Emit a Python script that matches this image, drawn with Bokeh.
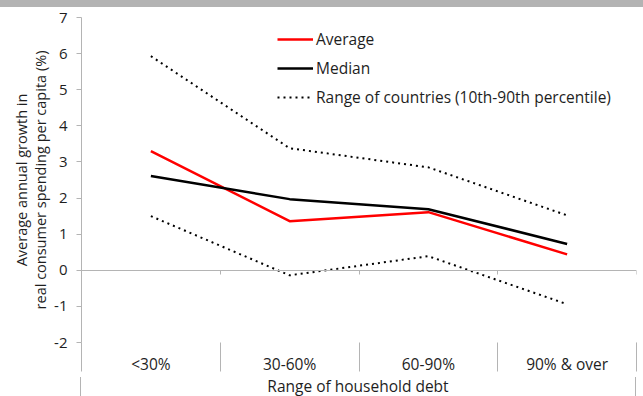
from bokeh.plotting import figure
from bokeh.models import (Range1d, FixedTicker, LinearAxis, Legend, LegendItem,
                          ColumnDataSource, Div)
from bokeh.layouts import column
from bokeh.embed import file_html
from bokeh.resources import INLINE

# Household debt bands and growth in real consumer spending per capita (%)
categories = ["<30%", "30-60%", "60-90%", "90% & over"]
average = [3.30, 1.36, 1.61, 0.44]
median = [2.61, 1.97, 1.69, 0.73]
pct90 = [5.93, 3.38, 2.85, 1.52]
pct10 = [1.50, -0.14, 0.39, -0.94]
y_ticks = [-2, -1, 0, 1, 2, 3, 4, 5, 6, 7]
x_title = "Range of household debt"
y_title = "Average annual growth in\nreal consumer spending per capita (%)"

FONT = "Open Sans"
TEXT = "#1e1e1e"
GRAY = "#b4b4b4"
LEFT = 81
RIGHT = 7
TOP = 10
FRAME_H = 325
SEP_H = 29       # length of the separators between category labels
CAT_PANEL = 35   # room below the frame for the category labels
BOX_H = 19

xpos = [i + 0.5 for i in range(len(categories))]
bounds = list(range(len(categories) + 1))
src = ColumnDataSource(dict(x=xpos, avg=average, med=median, hi=pct90, lo=pct10))

p = figure(width=643, height=TOP + FRAME_H + CAT_PANEL, output_backend="svg",
           toolbar_location=None,
           x_range=Range1d(0, len(categories)), y_range=Range1d(y_ticks[0], y_ticks[-1]),
           x_axis_type=None, y_axis_type=None,
           min_border_left=LEFT, min_border_right=RIGHT, min_border_top=TOP,
           min_border_bottom=CAT_PANEL)
p.outline_line_color = None
p.background_fill_color = "white"
p.border_fill_color = "white"

# vertical value axis
yax = LinearAxis(ticker=FixedTicker(ticks=y_ticks),
                 major_label_overrides={t: str(t) for t in y_ticks},
                 axis_line_color=GRAY, major_tick_line_color=GRAY,
                 major_tick_out=5, major_tick_in=0, minor_tick_line_color=None,
                 major_label_standoff=9,
                 major_label_text_font=FONT, major_label_text_font_size="15px",
                 major_label_text_color=TEXT,
                 axis_label=y_title,
                 axis_label_text_font=FONT, axis_label_text_font_size="14.5px",
                 axis_label_text_font_style="normal", axis_label_text_color=TEXT,
                 axis_label_text_line_height=1.0, axis_label_standoff=1)
p.add_layout(yax, "left")

# horizontal line at zero with tick marks at the band boundaries
zero_ax = LinearAxis(fixed_location=0, ticker=FixedTicker(ticks=bounds),
                     axis_line_color=GRAY, major_tick_line_color=GRAY,
                     major_tick_in=4, major_tick_out=0, minor_tick_line_color=None,
                     major_label_text_font_size="0px", major_label_standoff=0,
                     major_label_overrides={b: "" for b in bounds})
p.add_layout(zero_ax, "above")

# outer edges of the category area, running down to the bottom of the canvas
edge_ax = LinearAxis(fixed_location=y_ticks[0],
                     ticker=FixedTicker(ticks=[bounds[0], bounds[-1]]),
                     axis_line_color=None, major_tick_line_color=GRAY,
                     major_tick_in=60, major_tick_out=0, minor_tick_line_color=None,
                     major_label_text_font_size="0px", major_label_standoff=0,
                     major_label_overrides={bounds[0]: "", bounds[-1]: ""})
p.add_layout(edge_ax, "above")

# category labels with separators between the bands
cat_ax = LinearAxis(ticker=FixedTicker(ticks=xpos, minor_ticks=bounds),
                    major_label_overrides={x: c for x, c in zip(xpos, categories)},
                    axis_line_color=None, major_tick_line_color=None,
                    major_tick_out=0, major_tick_in=0,
                    minor_tick_out=SEP_H, minor_tick_in=0, minor_tick_line_color=GRAY,
                    major_label_standoff=-19,
                    major_label_text_font=FONT, major_label_text_font_size="15.5px",
                    major_label_text_color=TEXT)
p.add_layout(cat_ax, "below")

r_avg = p.line("x", "avg", source=src, line_color="#ff0000", line_width=2.5)
r_med = p.line("x", "med", source=src, line_color="black", line_width=2.5)
r_hi = p.line("x", "hi", source=src, line_color="black", line_width=2, line_dash="2 4")
r_lo = p.line("x", "lo", source=src, line_color="black", line_width=2, line_dash="2 4")

legend = Legend(items=[LegendItem(label="Average", renderers=[r_avg]),
                       LegendItem(label="Median", renderers=[r_med]),
                       LegendItem(label="Range of countries (10th-90th percentile)",
                                  renderers=[r_hi])],
                location=(196, 234), orientation="vertical",
                background_fill_alpha=0, border_line_color=None,
                padding=0, margin=0, spacing=7,
                glyph_width=36, glyph_height=20, label_height=20, label_standoff=3,
                label_text_font=FONT, label_text_font_size="15.5px",
                label_text_color=TEXT)
p.add_layout(legend)

band = Div(width=643, height=7, margin=0,
           styles={"background-color": "#b3b3b3"})

# outer category box holding the horizontal axis title
box_w = 643 - LEFT - RIGHT + 1
title_box = Div(
    text=(f'<div style="display:block;width:{box_w - 2}px;'
          f'font-family:\'{FONT}\';font-size:15.5px;color:{TEXT};'
          f'text-align:center;padding-top:0px;line-height:18px;'
          f'white-space:nowrap;">{x_title}</div>'),
    width=box_w, height=BOX_H, margin=(0, 0, 0, LEFT - 1),
    styles={"border-left": f"1px solid {GRAY}", "border-right": f"1px solid {GRAY}",
            "box-sizing": "border-box", "overflow": "hidden", "text-align": "center"})

layout = column(band, p, title_box, spacing=0)

open("out.html", "w").write(file_html(layout, INLINE))
